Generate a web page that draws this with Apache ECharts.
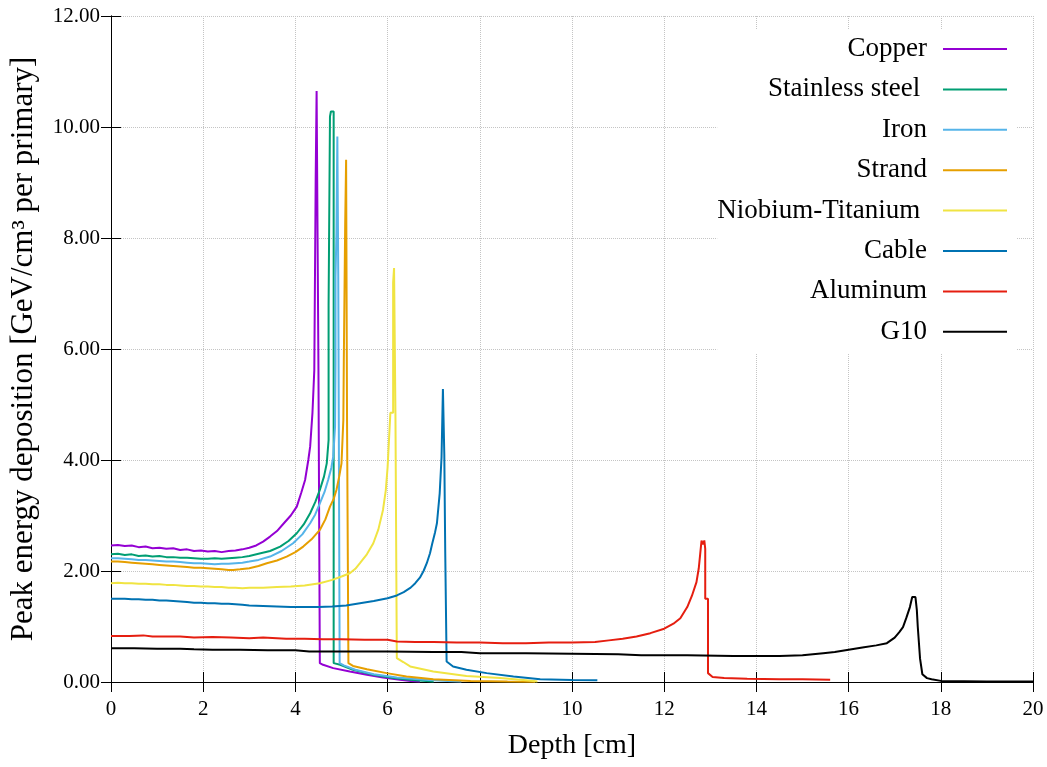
<!DOCTYPE html>
<html>
<head>
<meta charset="utf-8">
<script src="https://cdn.jsdelivr.net/npm/echarts@6/dist/echarts.min.js"></script>
<style>html,body{margin:0;padding:0;background:#fff}#c{width:1047px;height:767px}</style>
</head>
<body>
<div id="c"></div>
<script>
// Series names (legend) and colours
const seriesNames = ['Copper', 'Stainless steel ', 'Iron', 'Strand', 'Niobium-Titanium ', 'Cable', 'Aluminum', 'G10'];
const seriesColors = ['#9400d3', '#009e73', '#56b4e9', '#e69f00', '#f0e442', '#0072b2', '#e51e10', '#000000'];

// Axis ticks
const xTicks = [0, 2, 4, 6, 8, 10, 12, 14, 16, 18, 20];
const yTicks = [0, 2, 4, 6, 8, 10, 12];

// Data: [depth cm, peak energy deposition]
const copper = [[0,2.46],[0.15,2.47],[0.3,2.45],[0.45,2.46],[0.6,2.43],[0.75,2.44],[0.9,2.41],[1.05,2.42],[1.2,2.40],[1.35,2.41],[1.5,2.38],[1.65,2.39],[1.8,2.36],[1.95,2.37],[2.1,2.35],[2.25,2.36],[2.4,2.34],[2.55,2.36],[2.7,2.37],[2.85,2.39],[3.0,2.42],[3.15,2.46],[3.3,2.53],[3.45,2.62],[3.6,2.72],[3.75,2.86],[3.9,3.0],[4.03,3.16],[4.13,3.42],[4.21,3.64],[4.28,4.0],[4.32,4.24],[4.37,4.85],[4.41,5.62],[4.44,5.62],[4.44,9.08],[4.46,9.08],[4.46,10.65],[4.50,10.65],[4.50,5.62],[4.53,5.62],[4.53,0.34],[4.6,0.31],[4.82,0.25],[5.18,0.19],[5.55,0.13],[5.9,0.08],[6.27,0.04],[6.5,0.02],[6.7,0.01]];
const steel = [[0,2.30],[0.15,2.31],[0.3,2.29],[0.45,2.30],[0.6,2.27],[0.75,2.28],[0.9,2.26],[1.05,2.27],[1.2,2.25],[1.35,2.25],[1.5,2.24],[1.65,2.24],[1.8,2.23],[1.95,2.22],[2.1,2.22],[2.25,2.23],[2.4,2.22],[2.55,2.23],[2.7,2.24],[2.85,2.25],[3.0,2.27],[3.2,2.31],[3.45,2.36],[3.67,2.44],[3.85,2.54],[4.03,2.68],[4.18,2.84],[4.32,3.04],[4.43,3.24],[4.53,3.46],[4.62,3.7],[4.68,3.94],[4.72,4.36],[4.72,6.79],[4.75,6.79],[4.75,10.19],[4.77,10.19],[4.77,10.28],[4.83,10.28],[4.83,0.34],[4.97,0.31],[5.25,0.22],[5.69,0.13],[6.12,0.07],[6.6,0.03],[7.0,0.01]];
const iron = [[0,2.23],[0.15,2.23],[0.3,2.22],[0.45,2.21],[0.6,2.20],[0.75,2.20],[0.9,2.19],[1.05,2.18],[1.2,2.17],[1.35,2.17],[1.5,2.16],[1.65,2.15],[1.8,2.14],[1.95,2.14],[2.1,2.13],[2.25,2.12],[2.4,2.13],[2.55,2.13],[2.7,2.14],[2.85,2.15],[3.0,2.17],[3.2,2.20],[3.45,2.26],[3.7,2.36],[3.95,2.5],[4.15,2.66],[4.32,2.86],[4.43,3.02],[4.53,3.22],[4.63,3.42],[4.71,3.64],[4.78,3.86],[4.82,4.06],[4.86,4.6],[4.87,5.75],[4.87,7.3],[4.89,7.3],[4.89,8.08],[4.91,8.08],[4.91,9.83],[4.93,9.83],[4.93,7.3],[4.96,7.3],[4.96,0.34],[5.05,0.30],[5.3,0.22],[5.7,0.14],[6.2,0.08],[6.8,0.04],[7.3,0.02],[7.6,0.01]];
const strand = [[0,2.17],[0.15,2.17],[0.3,2.16],[0.45,2.15],[0.6,2.14],[0.75,2.13],[0.9,2.12],[1.05,2.11],[1.2,2.10],[1.35,2.09],[1.5,2.08],[1.65,2.07],[1.8,2.06],[1.95,2.06],[2.1,2.05],[2.25,2.04],[2.4,2.03],[2.55,2.02],[2.65,2.02],[2.8,2.03],[3.0,2.05],[3.2,2.09],[3.38,2.14],[3.6,2.19],[3.81,2.26],[4.0,2.34],[4.17,2.44],[4.35,2.57],[4.53,2.74],[4.65,2.93],[4.75,3.16],[4.83,3.3],[4.89,3.46],[4.95,3.7],[5.0,3.94],[5.04,4.72],[5.05,5.77],[5.08,5.77],[5.08,8.26],[5.10,8.26],[5.10,9.41],[5.12,9.41],[5.12,4.72],[5.15,4.72],[5.15,0.34],[5.25,0.29],[5.55,0.23],[5.98,0.16],[6.41,0.10],[6.99,0.05],[7.8,0.02],[8.6,0.01],[9.2,0.005]];
const nbti = [[0,1.78],[0.15,1.79],[0.3,1.78],[0.45,1.78],[0.6,1.77],[0.75,1.77],[0.9,1.76],[1.05,1.76],[1.2,1.75],[1.35,1.75],[1.5,1.74],[1.65,1.73],[1.8,1.73],[1.95,1.72],[2.1,1.72],[2.25,1.71],[2.4,1.71],[2.55,1.70],[2.7,1.70],[2.85,1.69],[3.0,1.70],[3.3,1.70],[3.6,1.71],[3.9,1.72],[4.2,1.74],[4.53,1.78],[4.8,1.84],[5.0,1.90],[5.18,1.96],[5.3,2.04],[5.4,2.14],[5.55,2.30],[5.69,2.5],[5.8,2.75],[5.9,3.1],[5.96,3.45],[6.0,3.87],[6.06,4.85],[6.12,4.85],[6.12,7.2],[6.14,7.46],[6.17,7.46],[6.17,4.85],[6.2,4.85],[6.2,0.43],[6.34,0.36],[6.49,0.28],[6.99,0.19],[7.71,0.11],[8.44,0.07],[9.0,0.03],[9.25,0.01]];
const cable = [[0,1.50],[0.15,1.50],[0.3,1.50],[0.45,1.49],[0.6,1.49],[0.75,1.48],[0.9,1.48],[1.05,1.47],[1.2,1.47],[1.35,1.46],[1.5,1.45],[1.65,1.44],[1.8,1.43],[1.95,1.43],[2.1,1.42],[2.25,1.42],[2.4,1.41],[2.55,1.41],[2.7,1.40],[2.85,1.39],[3.0,1.38],[3.3,1.37],[3.6,1.36],[3.9,1.35],[4.2,1.35],[4.5,1.35],[4.8,1.36],[5.1,1.38],[5.4,1.42],[5.7,1.46],[6.0,1.51],[6.2,1.56],[6.35,1.62],[6.5,1.70],[6.6,1.78],[6.7,1.88],[6.78,2.0],[6.85,2.14],[6.92,2.32],[6.97,2.5],[7.03,2.7],[7.07,2.86],[7.13,3.4],[7.17,4.05],[7.20,4.05],[7.20,5.28],[7.23,5.28],[7.23,4.10],[7.25,4.10],[7.25,2.35],[7.28,2.35],[7.28,0.37],[7.42,0.28],[7.71,0.22],[8.15,0.16],[8.73,0.10],[9.31,0.05],[10.0,0.035],[10.55,0.03]];
const aluminum = [[0,0.83],[0.4,0.83],[0.7,0.84],[0.9,0.82],[1.5,0.82],[1.8,0.80],[2.2,0.81],[2.6,0.80],[3.0,0.79],[3.3,0.80],[3.8,0.78],[4.2,0.78],[4.6,0.77],[5.0,0.77],[5.5,0.76],[6.0,0.76],[6.2,0.73],[6.6,0.72],[7.0,0.72],[7.5,0.71],[8.0,0.71],[8.5,0.70],[9.0,0.70],[9.5,0.71],[10.0,0.71],[10.5,0.72],[10.8,0.75],[11.1,0.78],[11.4,0.82],[11.7,0.88],[12.0,0.96],[12.2,1.05],[12.35,1.15],[12.5,1.35],[12.6,1.55],[12.7,1.80],[12.75,2.05],[12.78,2.30],[12.81,2.55],[12.84,2.48],[12.87,2.55],[12.89,2.40],[12.89,1.50],[12.95,1.50],[12.95,0.16],[13.05,0.09],[13.3,0.07],[13.8,0.06],[14.5,0.05],[15.0,0.05],[15.6,0.04]];
const g10 = [[0,0.61],[0.5,0.61],[1.0,0.60],[1.5,0.60],[1.8,0.59],[2.2,0.58],[2.8,0.58],[3.4,0.57],[4.0,0.57],[4.3,0.55],[5.0,0.55],[6.0,0.55],[7.0,0.54],[7.6,0.54],[8.0,0.52],[9.0,0.52],[10.0,0.51],[11.0,0.50],[11.5,0.48],[12.5,0.48],[13.5,0.47],[14.5,0.47],[15.0,0.48],[15.45,0.52],[15.7,0.54],[16.0,0.58],[16.3,0.62],[16.6,0.66],[16.83,0.70],[17.0,0.80],[17.1,0.90],[17.18,0.99],[17.25,1.15],[17.33,1.35],[17.38,1.53],[17.45,1.53],[17.48,1.30],[17.5,1.00],[17.55,0.42],[17.6,0.14],[17.7,0.07],[17.8,0.05],[18.0,0.02],[18.5,0.015],[19.0,0.01],[20.0,0.01]];

const seriesData = [copper, steel, iron, strand, nbti, cable, aluminum, g10];

const FONT = 'Liberation Serif';
const chart = echarts.init(document.getElementById('c'), null, {renderer: 'canvas'});

const axisCommon = {
  type: 'value',
  axisLine: {show: true, lineStyle: {color: '#000', width: 1}},
  axisTick: {show: true, inside: true, length: 10, lineStyle: {color: '#000', width: 1}},
  minorTick: {show: false}
};

const option = {
  animation: false,
  backgroundColor: '#fff',
  grid: {left: 111, right: 14, top: 16, bottom: 85, containLabel: false},
  xAxis: [
    Object.assign({}, axisCommon, {
      min: xTicks[0], max: xTicks[xTicks.length - 1], interval: xTicks[1] - xTicks[0],
      position: 'bottom',
      name: 'Depth [cm]', nameLocation: 'middle', nameGap: 50,
      nameTextStyle: {fontFamily: FONT, fontSize: 28, color: '#000'},
      axisLabel: {fontFamily: FONT, fontSize: 21, color: '#000', margin: 17},
      splitLine: {show: true, lineStyle: {color: '#c4c4c4', type: 'dotted', width: 1}}
    }),
    Object.assign({}, axisCommon, {
      min: xTicks[0], max: xTicks[xTicks.length - 1], interval: xTicks[1] - xTicks[0],
      position: 'top', axisLabel: {show: false}, splitLine: {show: false}
    })
  ],
  yAxis: [
    Object.assign({}, axisCommon, {
      min: yTicks[0], max: yTicks[yTicks.length - 1], interval: yTicks[1] - yTicks[0],
      position: 'left',
      name: 'Peak energy deposition [GeV/cm³ per primary]', nameLocation: 'middle', nameGap: 72,
      nameTextStyle: {fontFamily: FONT, fontSize: 31, color: '#000'},
      axisLabel: {fontFamily: FONT, fontSize: 21, color: '#000', margin: 11, formatter: v => v.toFixed(2)},
      splitLine: {show: true, lineStyle: {color: '#c4c4c4', type: 'dotted', width: 1}}
    }),
    Object.assign({}, axisCommon, {
      min: yTicks[0], max: yTicks[yTicks.length - 1], interval: yTicks[1] - yTicks[0],
      position: 'right', axisLabel: {show: false}, splitLine: {show: false}
    })
  ],
  legend: {
    orient: 'vertical',
    align: 'right',
    right: 30,
    top: 29,
    padding: [6, 10, 8, 0],
    backgroundColor: '#fff',
    icon: 'rect',
    itemWidth: 64,
    itemHeight: 2,
    itemGap: 12.4,
    selectedMode: false,
    textStyle: {fontFamily: FONT, fontSize: 27, lineHeight: 28, color: '#000', padding: [0, 11, 0, 0]},
    data: seriesNames
  },
  series: seriesNames.map((n, i) => ({
    name: n,
    type: 'line',
    xAxisIndex: 0,
    yAxisIndex: 0,
    data: seriesData[i],
    symbol: 'none',
    showSymbol: false,
    color: seriesColors[i],
    lineStyle: {color: seriesColors[i], width: 2},
    z: 2 + i
  }))
};
chart.setOption(option);
</script>
</body>
</html>
